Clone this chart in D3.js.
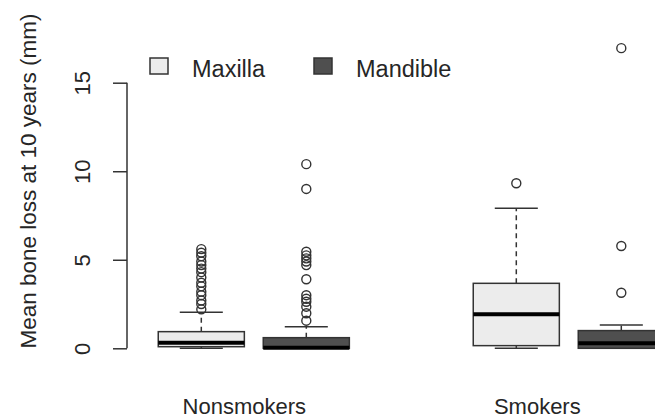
<!DOCTYPE html>
<html>
<head>
<meta charset="utf-8">
<script src="https://cdn.jsdelivr.net/npm/d3@7"></script>
<style>
  body { margin: 0; background: #fff; }
  svg text { font-family: "Liberation Sans", Arial, sans-serif; fill: #262626; }
</style>
</head>
<body>
<svg id="chart" width="655" height="418"></svg>
<script>
// groups on the x axis and the two jaws in each group
var groups = ["Nonsmokers", "Smokers"]
var groupAt = [1.41, 4.2]
var jaws = ["Maxilla", "Mandible"]
var jawColors = ["#ececec", "#4f4f4f"]

// one entry per box: Nonsmokers/Maxilla, Nonsmokers/Mandible, Smokers/Maxilla, Smokers/Mandible
var boxAt = [1, 2, 4, 5]
var boxJaw = [0, 1, 0, 1]
var lowWhisker = [0, 0, 0, 0]
var q1 = [0.09, 0, 0.15, 0]
var median = [0.32, 0.03, 1.92, 0.28]
var q3 = [0.94, 0.6, 3.67, 1.0]
var highWhisker = [2.03, 1.22, 7.91, 1.32]
var outliers = [
    [5.6, 5.4, 5.2, 4.9, 4.7, 4.5, 4.3, 4.0, 3.7, 3.5, 3.2, 3.0, 2.7, 2.5, 2.2],
    [10.4, 9.0, 5.45, 5.25, 5.08, 4.9, 4.7, 3.9, 3.0, 2.8, 2.63, 2.35, 1.98, 1.56],
    [9.32],
    [16.95, 5.78, 3.14]
]

var yTicks = [0, 5, 10, 15]

var svg = d3.select("#chart")

var x = d3.scaleLinear().domain([1, 5]).range([201.3, 621.3])
var y = d3.scaleLinear().domain([0, 15]).range([348.3, 82.7])
var unit = x(2) - x(1)
var boxW = unit * 0.82
var capW = boxW / 2
var ink = "#333"

// y axis with rotated labels, like R
var yAxis = svg.append("g")
    .attr("transform", translate(127, 0))
    .call(d3.axisLeft(y).tickValues(yTicks).tickSize(14).tickFormat(d3.format("d")))
yAxis.select(".domain").attr("d", "M0," + y(0) + "V" + y(15)).attr("stroke", ink).attr("stroke-width", 1.5)
yAxis.selectAll(".tick line").attr("stroke", ink).attr("stroke-width", 1.5)
yAxis.selectAll(".tick text")
    .attr("transform", "rotate(-90)")
    .attr("x", 0)
    .attr("y", -37)
    .attr("dy", 0)
    .attr("text-anchor", "middle")
    .style("font-size", "22px")
    .style("fill", "#262626")

svg.append("text")
    .attr("transform", translate(36, 181) + " rotate(-90)")
    .attr("text-anchor", "middle")
    .style("font-size", "22.5px")
    .text("Mean bone loss at 10 years (mm)")

// group labels under the boxes
svg.selectAll(".grp")
    .data(groups)
    .enter().append("text")
    .attr("class", "grp")
    .attr("x", (d, i) => x(groupAt[i]))
    .attr("y", 414)
    .attr("text-anchor", "middle")
    .style("font-size", "22px")
    .text(d => d)

// boxes
boxAt.forEach((pos, i) => {
    var cx = x(pos)
    var g = svg.append("g")

    // whiskers (dashed) and caps
    g.append("line")
        .attr("x1", cx).attr("x2", cx)
        .attr("y1", y(q3[i])).attr("y2", y(highWhisker[i]))
        .attr("stroke", ink).attr("stroke-width", 1.5).attr("stroke-dasharray", "5,4")
    g.append("line")
        .attr("x1", cx).attr("x2", cx)
        .attr("y1", y(q1[i])).attr("y2", y(lowWhisker[i]))
        .attr("stroke", ink).attr("stroke-width", 1.5).attr("stroke-dasharray", "5,4")
    ;[highWhisker[i], lowWhisker[i]].forEach(v => {
        g.append("line")
            .attr("x1", cx - capW / 2).attr("x2", cx + capW / 2)
            .attr("y1", y(v)).attr("y2", y(v))
            .attr("stroke", ink).attr("stroke-width", 1.5)
    })

    g.append("rect")
        .attr("x", cx - boxW / 2)
        .attr("y", y(q3[i]))
        .attr("width", boxW)
        .attr("height", y(q1[i]) - y(q3[i]))
        .attr("fill", jawColors[boxJaw[i]])
        .attr("stroke", ink)
        .attr("stroke-width", 1.5)

    g.append("line")
        .attr("x1", cx - boxW / 2).attr("x2", cx + boxW / 2)
        .attr("y1", y(median[i])).attr("y2", y(median[i]))
        .attr("stroke", "#000").attr("stroke-width", 4)

    g.selectAll("circle")
        .data(outliers[i])
        .enter().append("circle")
        .attr("cx", cx)
        .attr("cy", d => y(d))
        .attr("r", 4.5)
        .attr("fill", "none")
        .attr("stroke", ink)
        .attr("stroke-width", 1.4)
})

// legend
var legendX = [150, 314]
var legend = svg.selectAll(".leg")
    .data(jaws)
    .enter().append("g")
    .attr("class", "leg")
    .attr("transform", (d, i) => translate(legendX[i], 58))
legend.append("rect")
    .attr("width", 18).attr("height", 16)
    .attr("fill", (d, i) => jawColors[i])
    .attr("stroke", ink).attr("stroke-width", 1.5)
legend.append("text")
    .attr("x", 42)
    .attr("y", 18.5)
    .style("font-size", "23.5px")
    .text(d => d)

function translate(x, y) {
    return "translate(" + x + "," + y + ")"
}
</script>
</body>
</html>
